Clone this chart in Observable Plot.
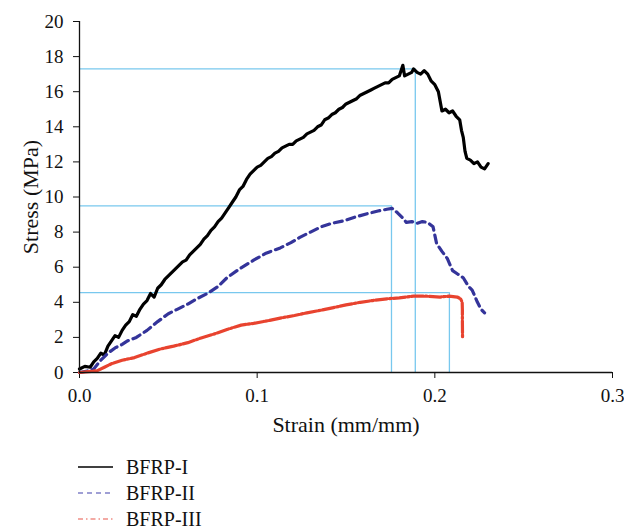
<!DOCTYPE html>
<html>
<head>
<meta charset="utf-8">
<script src="https://cdn.jsdelivr.net/npm/d3@7"></script>
<script src="https://cdn.jsdelivr.net/npm/@observablehq/plot@0.6"></script>
<style>
  body { margin: 0; background: #fff; font-family: "Liberation Serif", serif; }
  #legend { padding-top: 6px; }
  .row { display: flex; align-items: center; height: 26px; padding-left: 78px; font-size: 20px; color: #111; }
  .row svg { width: 35px; height: 10px; margin-right: 13px; }
</style>
</head>
<body>
<div id="chart"></div>
<div id="legend"></div>
<script>
const seriesNames = ["BFRP-I", "BFRP-II", "BFRP-III"];
const seriesColors = ["#000000", "#34349a", "#e8432f"];
const legendColors = ["#000000", "#8080c8", "#ef8f86"];
const seriesDash = [null, "8,5", "12,2,2,2"];
const legendDash = [null, "5,4", "5,3,1.5,3"];

const strainI = [0.000,0.003,0.006,0.008,0.010,0.012,0.014,0.016,0.018,0.020,0.022,0.024,0.026,0.028,0.030,0.032,0.034,0.036,0.038,0.040,0.042,0.044,0.046,0.048,0.050,0.052,0.054,0.056,0.058,0.060,0.062,0.064,0.066,0.068,0.070,0.072,0.074,0.076,0.078,0.080,0.082,0.084,0.086,0.088,0.090,0.092,0.094,0.096,0.098,0.100,0.102,0.104,0.106,0.108,0.110,0.112,0.114,0.116,0.118,0.120,0.122,0.124,0.126,0.128,0.130,0.132,0.134,0.136,0.138,0.140,0.142,0.144,0.146,0.148,0.150,0.152,0.154,0.156,0.158,0.160,0.162,0.164,0.166,0.168,0.170,0.172,0.174,0.176,0.178,0.180,0.182,0.183,0.185,0.187,0.188,0.190,0.192,0.194,0.196,0.198,0.200,0.202,0.204,0.206,0.208,0.210,0.212,0.214,0.215,0.216,0.217,0.218,0.220,0.222,0.224,0.226,0.228,0.230];
const stressI = [0.2,0.35,0.3,0.6,0.8,1.1,1.0,1.5,1.8,2.1,2.0,2.4,2.7,2.9,3.3,3.2,3.6,3.9,4.1,4.5,4.3,4.8,5.0,5.3,5.5,5.7,5.9,6.1,6.3,6.4,6.7,6.9,7.1,7.3,7.6,7.8,8.1,8.3,8.6,8.8,9.1,9.4,9.7,10.0,10.4,10.6,11.0,11.3,11.5,11.7,11.8,12.0,12.2,12.3,12.5,12.6,12.8,12.9,13.0,13.0,13.2,13.3,13.4,13.6,13.7,13.8,14.0,14.1,14.4,14.5,14.7,14.8,15.0,15.1,15.3,15.4,15.5,15.6,15.8,15.9,16.0,16.1,16.2,16.3,16.4,16.5,16.5,16.7,16.8,16.9,17.5,16.9,17.0,17.1,17.3,17.1,17.0,17.2,17.0,16.6,16.4,16.0,14.9,15.0,14.8,14.9,14.6,14.4,13.8,13.4,12.6,12.2,12.1,11.9,12.0,11.7,11.6,11.9];

const strainII = [0.000,0.005,0.008,0.012,0.016,0.020,0.024,0.027,0.032,0.038,0.044,0.050,0.055,0.061,0.066,0.072,0.078,0.083,0.090,0.098,0.105,0.113,0.119,0.124,0.130,0.136,0.142,0.149,0.155,0.162,0.168,0.173,0.176,0.179,0.182,0.184,0.187,0.190,0.193,0.196,0.199,0.201,0.204,0.207,0.210,0.213,0.216,0.219,0.221,0.224,0.226,0.228];
const stressII = [0.0,0.1,0.2,0.7,1.1,1.4,1.6,1.8,2.0,2.4,2.9,3.35,3.6,3.9,4.2,4.5,4.9,5.4,5.9,6.4,6.8,7.1,7.4,7.7,8.0,8.3,8.5,8.65,8.85,9.05,9.2,9.3,9.35,9.1,8.8,8.55,8.6,8.5,8.6,8.55,8.3,7.35,6.9,6.5,5.8,5.6,5.4,4.9,4.7,4.0,3.6,3.4];

const strainIII = [0.000,0.005,0.010,0.014,0.018,0.024,0.031,0.038,0.046,0.053,0.061,0.068,0.076,0.083,0.091,0.098,0.106,0.113,0.121,0.128,0.136,0.143,0.150,0.158,0.165,0.173,0.180,0.188,0.195,0.203,0.208,0.2126,0.2145,0.2154,0.2155,0.2155,0.2156];
const stressIII = [0.0,0.05,0.1,0.3,0.5,0.7,0.85,1.1,1.35,1.5,1.7,1.95,2.2,2.45,2.7,2.8,2.95,3.1,3.25,3.4,3.55,3.7,3.85,4.0,4.1,4.2,4.25,4.35,4.35,4.3,4.35,4.3,4.2,4.0,3.6,3.0,2.0];

// peak reference lines (strain, stress)
const refStrain = [0.189, 0.1756, 0.2082];
const refStress = [17.3, 9.5, 4.55];

const xTicks = [0, 0.1, 0.2, 0.3];
const yTicks = [0, 2, 4, 6, 8, 10, 12, 14, 16, 18, 20];

const toRows = (xs, ys) => xs.map((x, i) => ({x, y: ys[i]}));
const series = [toRows(strainI, stressI), toRows(strainII, stressII), toRows(strainIII, stressIII)];
const refs = refStrain.map((s, i) => ({s, v: refStress[i]}));

const chart = Plot.plot({
  width: 624,
  height: 448,
  marginLeft: 79,
  marginRight: 12,
  marginTop: 21,
  marginBottom: 76,
  style: {fontFamily: "Liberation Serif, serif", fontSize: "19px", color: "#111", background: "#fff"},
  x: {domain: [0, 0.3], ticks: xTicks, tickFormat: d3.format(".1f"), tickSize: 6, tickPadding: 10, label: null},
  y: {domain: [0, 20], ticks: yTicks, tickSize: 6, tickPadding: 10, label: null},
  marks: [
    Plot.ruleY(refs, {y: "v", x1: 0, x2: "s", stroke: "#78c8ee", strokeWidth: 1.3}),
    Plot.ruleX(refs, {x: "s", y1: 0, y2: "v", stroke: "#78c8ee", strokeWidth: 1.3}),
    ...series.map((d, i) => Plot.line(d, {x: "x", y: "y", stroke: seriesColors[i], strokeWidth: 3.2, strokeDasharray: seriesDash[i], strokeLinejoin: "round"})),
    Plot.ruleX([0], {stroke: "#111", strokeWidth: 1.3}),
    Plot.ruleY([0], {stroke: "#111", strokeWidth: 1.3}),
    Plot.text(["Strain (mm/mm)"], {frameAnchor: "bottom", dy: 52, fontSize: 22, lineAnchor: "middle", textAnchor: "middle", fill: "#111"}),
    Plot.text(["Stress (MPa)"], {frameAnchor: "left", dx: -49, rotate: -90, fontSize: 22, textAnchor: "middle", lineAnchor: "middle", fill: "#111"})
  ]
});
document.getElementById("chart").appendChild(chart);

const legend = document.getElementById("legend");
seriesNames.forEach((name, i) => {
  const row = document.createElement("div");
  row.className = "row";
  row.innerHTML = `<svg viewBox="0 0 35 10"><line x1="0" y1="5" x2="35" y2="5" stroke="${legendColors[i]}" stroke-width="1.5" ${legendDash[i] ? `stroke-dasharray="${legendDash[i]}"` : ""}/></svg><span>${name}</span>`;
  legend.appendChild(row);
});
</script>
</body>
</html>
